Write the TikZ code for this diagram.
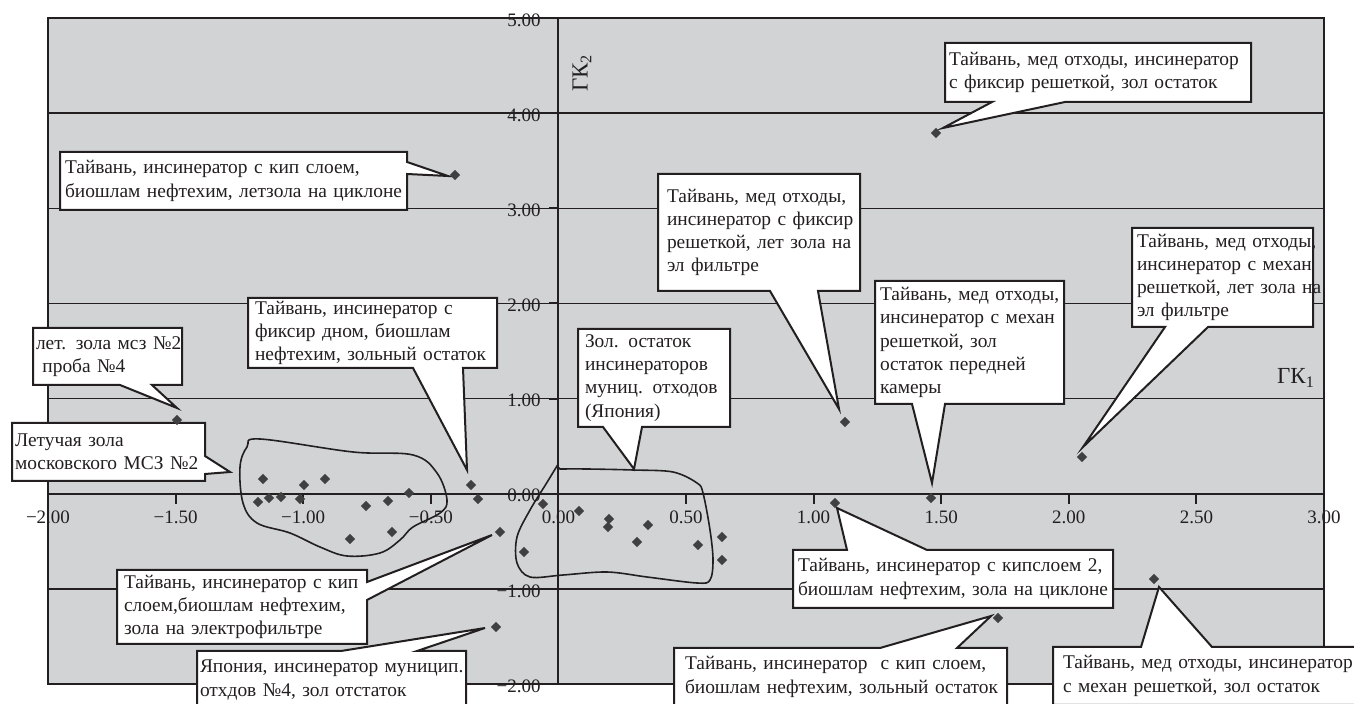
\documentclass[tikz,border=0pt]{standalone}
\usepackage{fontspec}
\setmainfont{Liberation Serif}
\usetikzlibrary{shapes.geometric,calc}
\definecolor{plotbg}{RGB}{209,211,212}
\definecolor{ink}{RGB}{35,31,32}
\definecolor{markc}{RGB}{64,64,65}
\begin{document}
\begin{tikzpicture}[x=0.5pt,y=-0.5pt,
  axlbl/.style={font=\fontsize{9.5}{11}\selectfont, text=ink, inner sep=0pt},
  gklbl/.style={font=\fontsize{11.5}{13}\selectfont, text=ink, inner sep=0pt},
  gridln/.style={draw=ink, line width=0.7pt},
  axisln/.style={draw=ink, line width=1pt},
  blob/.style={draw=ink, line width=0.8pt},
  dm/.style={diamond, fill=markc, inner sep=0pt, minimum size=5.2pt},
  cbtext/.style={fill=white, align=left, anchor=north west, text=ink, inner ysep=0.5pt,
      outer sep=0pt, font=\fontsize{9.7}{11.6}\selectfont},
  cbline/.style={draw=ink, line width=1pt, line join=miter},
  wedge/.style={fill=white},
]
\useasboundingbox (0,0) rectangle (1354,704);
\fill[white] (0,0) rectangle (1354,704);
\fill[plotbg] (48,18) rectangle (1324,684);

% ---------- axes, grid, ticks (data coordinates) ----------
\begin{scope}[shift={(558.4,493.7)}, x=127.6pt, y=47.57pt]
  \foreach \v/\t [count=\i] in {-2/−2.00,-1.5/−1.50,-1/−1.00,-0.5/−0.50,0/0.00,0.5/0.50,1/1.00,1.5/1.50,2/2.00,2.5/2.50,3/3.00}
    \node[axlbl] (xl\i) at (\v,-0.245) {\t};
  \foreach \w/\t [count=\i] in {5/5.00,4/4.00,3/3.00,2/2.00,1/1.00,0/0.00,-1/−1.00,-2/−2.00}
    \node[axlbl, anchor=east] (yl\i) at (-0.068,\w-0.022) {\t};
  \foreach \w in {-1,1,2,3,4}
    \draw[gridln] (-2,\w) -- (3,\w);
  \draw[axisln] (-2,0) -- (3,0);
  \draw[axisln] (0,-2) -- (0,5);
  \foreach \v in {-1.5,-1,-0.5,0.5,1,1.5,2,2.5}
    \draw[axisln] (\v,0) -- ++(0,-0.105);
  \foreach \w in {-2,-1,1,2,3,4,5}
    \draw[axisln] (0,\w) -- ++(-0.035,0);
  \draw[axisln] (-2,-2) rectangle (3,5);
\end{scope}

% ---------- group outlines ----------
\draw[blob] plot[smooth cycle, tension=0.6] coordinates {
  (260,439) (353,452) (413,455) (437,473) (447,500) (440,513) (413,527)
  (400,540) (380,553) (347,556) (320,547) (290,533) (257,523) (243,503)
  (240,467) (247,447)};
\draw[blob] plot[smooth, tension=0.55] coordinates {
  (560,469) (587,469) (633,470) (673,472) (697,483) (703,493)
  (710,530) (713,560) (710,580) (697,583) (647,577) (607,572) (563,575)
  (530,577) (517,563) (517,537) (530,510) (546,484) (557,466)} -- cycle;

% ---------- callouts ----------
% A
\node[cbtext, inner xsep=2.5pt, text width=168.5pt, minimum height=29pt] (cA) at (60,152)
  {\mbox{Тайвань, инсинератор с кип слоем,}\\\mbox{биошлам нефтехим, летзола на циклоне}};
\coordinate (tA) at (448,176);
\fill[wedge] (cA.east |- 0,162) -- (tA) -- (cA.east |- 0,174) -- cycle;
\draw[cbline] (cA.north west) -- (cA.north east) -- (cA.east |- 0,162) -- (tA) -- (cA.east |- 0,174) -- (cA.south east) -- (cA.south west) -- cycle;
% B
\node[cbtext, inner xsep=2pt, text width=149pt, minimum height=29.5pt] (cB) at (945,43)
  {\mbox{Тайвань, мед отходы, инсинератор}\\\mbox{с фиксир решеткой, зол остаток}};
\coordinate (tB) at (943,128);
\fill[wedge] (992,0 |- cB.south) -- (tB) -- (1065,0 |- cB.south) -- cycle;
\draw[cbline] (cB.north west) -- (cB.north east) -- (cB.south east) -- (1065,0 |- cB.south) -- (tB) -- (992,0 |- cB.south) -- (cB.south west) -- cycle;
% C
\node[cbtext, inner xsep=4.5pt, text width=92pt, minimum height=58.5pt] (cC) at (658,174)
  {\mbox{Тайвань, мед отходы,}\\\mbox{инсинератор с фиксир}\\\mbox{решеткой, лет зола на}\\\mbox{эл фильтре}};
\coordinate (tC) at (839,409);
\fill[wedge] (770,0 |- cC.south) -- (tC) -- (818,0 |- cC.south) -- cycle;
\draw[cbline] (cC.north west) -- (cC.north east) -- (cC.south east) -- (818,0 |- cC.south) -- (tC) -- (770,0 |- cC.south) -- (cC.south west) -- cycle;
% D
\node[cbtext, inner xsep=2.5pt, text width=85.5pt, minimum height=49.5pt] (cD) at (1132,228)
  {\mbox{Тайвань, мед отходы,}\\\mbox{инсинератор с механ}\\\mbox{решеткой, лет зола на}\\\mbox{эл фильтре}};
\coordinate (tD) at (1083,447);
\fill[wedge] (1165,0 |- cD.south) -- (tD) -- (1208,0 |- cD.south) -- cycle;
\draw[cbline] (cD.north west) -- (cD.north east) -- (cD.south east) -- (1208,0 |- cD.south) -- (tD) -- (1165,0 |- cD.south) -- (cD.south west) -- cycle;
% E
\node[cbtext, inner xsep=2.5pt, text width=89.5pt, minimum height=61.5pt] (cE) at (875,281)
  {\mbox{Тайвань, мед отходы,}\\\mbox{инсинератор с механ}\\\mbox{решеткой, зол}\\\mbox{остаток передней}\\\mbox{камеры}};
\coordinate (tE) at (932,483);
\fill[wedge] (912,0 |- cE.south) -- (tE) -- (945,0 |- cE.south) -- cycle;
\draw[cbline] (cE.north west) -- (cE.north east) -- (cE.south east) -- (945,0 |- cE.south) -- (tE) -- (912,0 |- cE.south) -- (cE.south west) -- cycle;
% F
\node[cbtext, inner xsep=1.5pt, text width=71.5pt, minimum height=28.5pt] (cF) at (33,328)
  {\mbox{лет. зола мсз №2}\\\mbox{\ проба №4}};
\coordinate (tF) at (177,408);
\fill[wedge] (120,0 |- cF.south) -- (tF) -- (152,0 |- cF.south) -- cycle;
\draw[cbline] (cF.north west) -- (cF.north east) -- (cF.south east) -- (152,0 |- cF.south) -- (tF) -- (120,0 |- cF.south) -- (cF.south west) -- cycle;
% G
\node[cbtext, inner xsep=1.5pt, text width=93.5pt, minimum height=29pt] (cG) at (12,423)
  {\mbox{Летучая зола}\\\mbox{московского МСЗ №2}};
\coordinate (tG) at (230,472);
\fill[wedge] (cG.east |- 0,456) -- (tG) -- (cG.east |- 0,474) -- cycle;
\draw[cbline] (cG.north west) -- (cG.north east) -- (cG.east |- 0,456) -- (tG) -- (cG.east |- 0,474) -- (cG.south east) -- (cG.south west) -- cycle;
% H
\node[cbtext, inner xsep=3.5pt, text width=117.5pt, minimum height=35pt] (cH) at (248,298)
  {\mbox{Тайвань, инсинератор с}\\\mbox{фиксир дном, биошлам}\\\mbox{нефтехим, зольный остаток}};
\coordinate (tH) at (467,470);
\fill[wedge] (413,0 |- cH.south) -- (tH) -- (463,0 |- cH.south) -- cycle;
\draw[cbline] (cH.north west) -- (cH.north east) -- (cH.south east) -- (463,0 |- cH.south) -- (tH) -- (413,0 |- cH.south) -- (cH.south west) -- cycle;
% I
\node[cbtext, inner xsep=3.5pt, text width=69pt, minimum height=49pt] (cI) at (578,329)
  {\mbox{Зол. остаток}\\\mbox{инсинераторов}\\\mbox{муниц. отходов}\\\mbox{(Япония)}};
\coordinate (tI) at (634,469);
\fill[wedge] (603,0 |- cI.south) -- (tI) -- (642,0 |- cI.south) -- cycle;
\draw[cbline] (cI.north west) -- (cI.north east) -- (cI.south east) -- (642,0 |- cI.south) -- (tI) -- (603,0 |- cI.south) -- (cI.south west) -- cycle;
% J
\node[cbtext, inner xsep=3.5pt, text width=118pt, minimum height=37pt] (cJ) at (117,570)
  {\mbox{Тайвань, инсинератор с кип}\\\mbox{слоем,биошлам нефтехим,}\\\mbox{зола на электрофильтре}};
\coordinate (tJ) at (492,535);
\fill[wedge] (cJ.east |- 0,582) -- (tJ) -- (cJ.east |- 0,600) -- cycle;
\draw[cbline] (cJ.north west) -- (cJ.north east) -- (cJ.east |- 0,582) -- (tJ) -- (cJ.east |- 0,600) -- (cJ.south east) -- (cJ.south west) -- cycle;
% K
\node[cbtext, inner xsep=1.5pt, text width=131.5pt, minimum height=29pt] (cK) at (197,651)
  {\mbox{Япония, инсинератор муницип.}\\\mbox{отхдов №4, зол отстаток}};
\coordinate (tK) at (485,628);
\fill[wedge] (341,0 |- cK.north) -- (tK) -- (417,0 |- cK.north) -- cycle;
\draw[cbline] (cK.north west) -- (341,0 |- cK.north) -- (tK) -- (417,0 |- cK.north) -- (cK.north east) -- (cK.south east) -- (cK.south west) -- cycle;
% L
\node[cbtext, inner xsep=2.5pt, text width=155pt, minimum height=29pt] (cL) at (793,550)
  {\mbox{Тайвань, инсинератор с кипслоем 2,}\\\mbox{биошлам нефтехим, зола на циклоне}};
\coordinate (tL) at (837,508);
\fill[wedge] (847,0 |- cL.north) -- (tL) -- (927,0 |- cL.north) -- cycle;
\draw[cbline] (cL.north west) -- (847,0 |- cL.north) -- (tL) -- (927,0 |- cL.north) -- (cL.north east) -- (cL.south east) -- (cL.south west) -- cycle;
% M
\node[cbtext, inner xsep=5.5pt, text width=155.5pt, minimum height=29pt] (cM) at (674,648)
  {\mbox{Тайвань, инсинератор\ \ с кип слоем,}\\\mbox{биошлам нефтехим, зольный остаток}};
\coordinate (tM) at (991,616);
\fill[wedge] (880,0 |- cM.north) -- (tM) -- (957,0 |- cM.north) -- cycle;
\draw[cbline] (cM.north west) -- (880,0 |- cM.north) -- (tM) -- (957,0 |- cM.north) -- (cM.north east) -- (cM.south east) -- (cM.south west) -- cycle;
% N
\node[cbtext, inner xsep=5pt, text width=141pt, minimum height=29pt] (cN) at (1053,647)
  {\mbox{Тайвань, мед отходы, инсинератор}\\\mbox{с механ решеткой, зол остаток}};
\coordinate (tN) at (1159,587);
\fill[wedge] (1141,0 |- cN.north) -- (tN) -- (1212,0 |- cN.north) -- cycle;
\draw[cbline] (cN.north west) -- (1141,0 |- cN.north) -- (tN) -- (1212,0 |- cN.north) -- (cN.north east) -- (cN.south east) -- (cN.south west) -- cycle;

% ---------- axis titles ----------
\node[gklbl, rotate=90] (gk2) at (582,73) {ГК\textsubscript{2}};
\node[gklbl] (gk1) at (1296,378) {ГК\textsubscript{1}};

% ---------- data points ----------
\foreach \px/\py [count=\i] in {
  455/175, 936/133, 845/422, 1082/457, 931/498, 835/503, 998/618, 1154/579,
  177/420, 500/532, 496/627,
  263/479, 258/502, 269/498, 281/497, 304/485, 300/499, 325/479, 350/539,
  366/506, 388/501, 392/532, 409/493, 471/485, 478/499,
  543/504, 524/552, 579/511, 609/519, 608/527, 637/542, 648/525, 698/545,
  722/537, 722/560}
  \node[dm] (p\i) at (\px,\py) {};
\end{tikzpicture}
\end{document}
